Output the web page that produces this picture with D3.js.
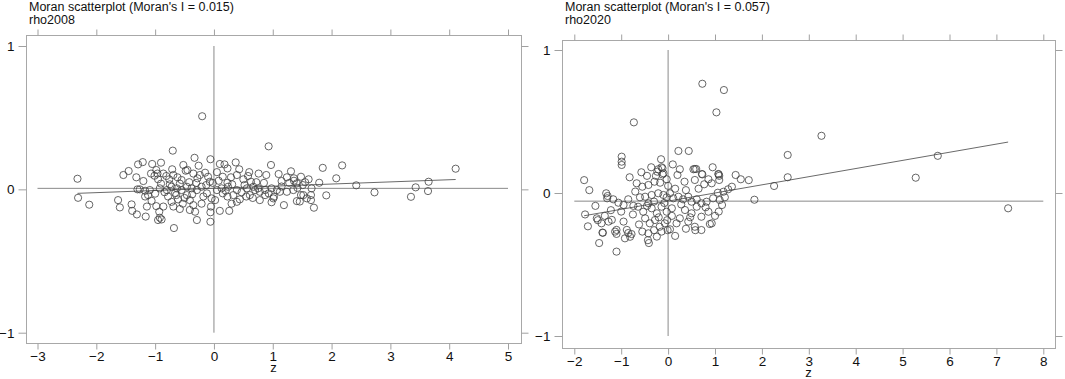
<!DOCTYPE html>
<html>
<head>
<meta charset="utf-8">
<script src="https://cdn.jsdelivr.net/npm/d3@7"></script>
<style>
body { margin: 0; background: #fff; }
svg { display: block; font-family: "Liberation Sans", Arial, sans-serif; }
</style>
</head>
<body>
<script>
// values: [z, spatial lag of z]
var rho2008 = [
  [-0.20,0.51],[-0.70,0.27],[0.93,0.30],[-2.32,0.074],[-2.31,-0.059],[-2.12,-0.107],[-1.63,-0.075],[-1.60,-0.126],
  [-1.54,0.10],[-1.45,0.128],[-1.32,0.084],[-1.29,0.174],[-1.21,0.19],[-1.40,-0.105],[-1.39,-0.15],[-1.31,-0.175],
  [-1.16,-0.19],[-0.95,-0.214],[-0.92,-0.198],[-0.89,-0.21],[-0.68,-0.27],[-0.06,-0.226],[-0.06,-0.16],[-0.29,-0.214],
  [0.26,-0.15],[-0.06,0.21],[-0.33,0.22],[-1.05,0.177],[-0.90,0.186],[-0.71,0.14],[-0.45,0.135],[-0.26,0.165],
  [0.18,0.174],[0.37,0.188],[0.43,0.14],[0.97,0.17],[1.10,0.107],[1.15,0.058],[1.19,-0.11],[0.98,-0.09],
  [0.78,-0.075],[-1.20,0.058],[-1.30,0.0],[-1.17,-0.05],
  [1.31,0.126],[1.36,0.077],[1.36,0.06],[1.48,0.088],[1.61,0.07],[1.51,0.03],[1.79,0.046],[1.85,0.15],
  [2.18,0.167],[2.08,0.077],[1.91,-0.042],[1.66,0.007],[1.65,-0.04],[1.65,-0.075],[1.70,-0.128],[1.48,-0.04],
  [1.41,-0.082],[1.46,-0.085],[1.02,-0.052],[1.12,-0.017],[2.42,0.028],[2.73,-0.021],[3.35,-0.052],[3.43,0.014],
  [3.64,-0.012],[3.65,0.053],[4.11,0.144],
  [-0.48,0.13],[-0.98,0.135],[-0.96,0.11],[-1.07,0.11],[-1.01,0.095],[-0.95,0.07],
  [-0.86,0.11],[-0.81,0.093],[-0.76,0.07],[-0.69,0.10],[-0.62,0.084],[-0.55,0.065],
  [-0.35,0.11],[-0.28,0.077],[-0.24,0.10],[-0.15,0.116],[-0.10,0.088],[-0.07,0.053],
  [0.10,0.177],[0.23,0.146],[0.39,0.10],[0.15,0.088],[0.29,0.084],[0.23,0.046],[0.50,0.07],[0.58,0.093],
  [0.63,0.053],[0.76,0.11],[0.89,0.10],[1.24,0.084],[1.41,0.042],
  [-1.12,-0.04],[-1.06,-0.08],[-1.14,-0.12],[-0.93,-0.156],[-0.98,-0.117],
  [-0.78,-0.05],[-0.72,-0.087],[-0.64,-0.04],[-0.61,-0.07],[-0.69,-0.12],[-0.58,-0.137],[-0.53,-0.10],
  [-0.46,-0.04],[-0.41,-0.075],[-0.35,-0.11],[-0.41,-0.144],[-0.32,-0.156],[-0.21,-0.10],
  [-0.12,-0.028],[-0.04,-0.063],[0.02,-0.075],[-0.05,-0.12],[0.10,-0.15],
  [0.15,-0.028],[0.23,-0.05],[0.33,-0.04],[0.39,-0.087],[0.44,-0.07],[0.55,-0.05],[0.61,-0.04],[0.70,-0.005],
  [0.78,-0.017],[0.87,-0.04],[0.93,-0.028],[1.01,-0.063],[1.52,-0.04],[1.58,-0.063],
  [-1.26,0.0],[-1.17,-0.01],[-1.09,-0.005],[-0.92,0.007],[-0.80,-0.005],[-0.72,0.018],[-0.63,0.007],[-0.55,-0.005],
  [-0.46,0.018],[-0.38,0.007],[-0.29,-0.005],[-0.21,0.018],[0.05,-0.005],[0.13,0.007],[0.24,0.018],[0.39,-0.005],
  [0.56,0.007],[0.67,0.018],[0.75,0.007],[0.87,-0.005],[0.98,0.007],[1.07,-0.005],[1.24,-0.017],[1.35,-0.005],
  [-0.90,0.04],[-0.84,-0.02],[-0.75,0.035],[-0.66,-0.025],[-0.58,0.04],[-0.50,-0.06],[-0.42,0.05],[-0.37,-0.035],
  [-0.30,0.045],[-0.18,-0.05],[-0.13,0.03],[-0.02,0.045],[0.08,0.06],[0.20,-0.01],[0.31,0.035],[0.47,-0.02],
  [0.52,0.03],[0.66,-0.06],[0.72,0.05],[0.85,0.045],[1.15,0.02],[1.28,0.045],[1.42,0.01],[1.55,0.05],
  [-1.00,-0.03],[-0.86,-0.12],[-0.52,0.17],[0.05,0.12],[0.30,-0.10],[0.60,0.12]
];

var rho2020 = [
  [3.27,0.40],[2.55,0.266],[2.55,0.11],[2.26,0.049],[5.28,0.107],[5.75,0.26],[7.25,-0.107],
  [0.73,0.764],[1.19,0.72],[1.03,0.564],[-0.73,0.494],[0.22,0.294],[0.44,0.294],[-0.99,0.254],[-0.99,0.219],
  [-0.99,0.196],[-0.15,0.236],[-1.79,0.09],[-1.68,0.02],[-0.57,0.145],[-0.36,0.18],[-0.23,0.149],[-0.26,0.12],
  [-0.12,0.173],[-0.12,0.13],[0.57,0.168],[0.60,0.168],[0.73,0.13],[1.08,0.13],[1.09,0.12],[1.44,0.126],
  [1.55,0.096],[1.72,0.09],[1.36,0.044],[1.84,-0.047],[-1.77,-0.15],[-1.71,-0.233],[-1.47,-0.35],[-1.39,-0.278],
  [-1.10,-0.41],[-1.13,-0.27],[-1.10,-0.286],[-0.85,-0.28],[-0.81,-0.306],[-0.92,-0.317],[-0.43,-0.33],[-0.41,-0.35],
  [-0.01,-0.26],[0.38,-0.25],[0.58,-0.26],[0.89,-0.217],[1.08,-0.13],[1.15,-0.084],[-1.32,-0.002],[-1.30,-0.037],
  [-1.52,-0.177],[-1.50,-0.19],[-1.27,-0.20],[-1.22,-0.12],
  [-0.21,0.166],[-0.10,0.138],[-0.14,0.18],
  [-0.67,0.068],[-0.55,0.044],[-0.42,0.056],[-0.29,0.079],[-0.17,0.072],[-0.03,0.096],
  [0.20,0.126],[0.25,0.166],[0.35,0.079],[0.54,0.166],[0.57,0.091],[0.72,0.133],[0.77,0.061],[0.86,0.096],
  [0.93,0.068],[1.07,0.133],[1.09,0.091],[1.06,0.002],[1.18,0.009],[1.28,0.026],
  [-1.29,-0.021],[-1.17,-0.044],[-1.06,-0.068],[-0.95,-0.084],[-0.85,-0.044],[-0.74,-0.09],
  [-1.42,-0.212],[-1.35,-0.16],[-1.20,-0.188],[-1.10,-0.258],[-1.40,-0.277],[-0.88,-0.258],[-0.78,-0.287],
  [-0.64,-0.096],[-0.53,-0.131],[-0.42,-0.072],[-0.35,-0.107],[-0.24,-0.142],[-0.14,-0.096],[-0.03,-0.131],[0.08,-0.107],
  [-0.49,-0.177],[-0.39,-0.212],[-0.28,-0.189],[-0.18,-0.236],[-0.07,-0.212],[0.04,-0.254],[-0.42,-0.282],
  [-0.14,-0.27],[-0.24,-0.305],
  [-0.49,-0.026],[-0.35,-0.014],[-0.21,-0.002],[-0.10,-0.014],[-0.03,-0.03],[0.04,-0.002],[0.11,-0.037],[0.22,-0.026],
  [0.32,-0.044],[0.43,-0.026],[0.50,-0.061],[0.61,-0.044],[0.71,-0.072],[0.82,-0.061],[0.96,-0.037],[1.10,-0.049],
  [1.21,-0.03],
  [0.36,-0.119],[0.50,-0.142],[0.61,-0.096],[0.71,-0.166],[0.86,-0.131],[0.93,-0.212],[0.57,-0.236],[0.18,-0.212],
  [0.25,-0.177],[0.71,-0.259],[0.43,-0.2],
  [-0.60,-0.03],[-0.70,0.01],[-0.45,-0.09],[-0.30,-0.06],[-0.20,-0.17],[-0.08,-0.07],[0.00,0.05],[0.08,-0.16],
  [0.15,0.03],[0.28,-0.08],[0.38,0.02],[0.47,-0.17],[0.65,0.03],[0.80,-0.10],[1.00,-0.16],[-0.95,-0.20],
  [-0.62,-0.22],[-0.55,-0.27],[-0.30,-0.26],[-0.02,-0.19],[0.15,-0.30],[-0.82,0.11],[-0.45,0.12],[0.10,0.20],
  [0.95,0.18],[-1.55,-0.09],[-1.00,-0.13],[-0.75,-0.15]
];

var varNames = ["rho2008", "rho2020"];
var moranI = [0.015, 0.057];
var lagMean = [0.007, -0.057];      // mean of the spatial lag (horizontal reference line)
var xTicks2008 = [-3, -2, -1, 0, 1, 2, 3, 4, 5];
var xTicks2020 = [-2, -1, 0, 1, 2, 3, 4, 5, 6, 7, 8];
var yTicks = [-1, 0, 1];

var svg = d3.select("body").append("svg")
    .attr("width", 1065)
    .attr("height", 379);

function panel(data, name, I, mean, xTicks, box) {
    var x = d3.scaleLinear()
        .domain([xTicks[0], xTicks[xTicks.length - 1]])
        .range(box.xr);
    var y = d3.scaleLinear()
        .domain([-1, 1])
        .range(box.yr);

    var g = svg.append("g");

    // titles
    g.append("text")
        .attr("x", box.x0 + 3)
        .attr("y", 11)
        .style("font-size", "12.5px")
        .attr("fill", "#111")
        .text("Moran scatterplot (Moran's I = " + d3.format(".3f")(I) + ")");
    g.append("text")
        .attr("x", box.x0 + 3)
        .attr("y", 23.5)
        .style("font-size", "12.5px")
        .attr("fill", "#111")
        .text(name);

    // frame
    g.append("rect")
        .attr("x", box.x0 + 0.5)
        .attr("y", box.y0 + 0.5)
        .attr("width", box.x1 - box.x0)
        .attr("height", box.y1 - box.y0)
        .attr("fill", "none")
        .attr("stroke", "#a8a8a8");

    // axes
    var bottom = g.append("g")
        .attr("transform", "translate(0," + (box.y1 + 0.5) + ")")
        .call(d3.axisBottom(x).tickValues(xTicks).tickSize(6).tickPadding(2).tickFormat(d3.format("d")));
    var top = g.append("g")
        .attr("transform", "translate(0," + (box.y0 + 0.5) + ")")
        .call(d3.axisTop(x).tickValues(xTicks).tickSize(6).tickFormat(""));
    var left = g.append("g")
        .attr("transform", "translate(" + (box.x0 + 0.5) + ",0)")
        .call(d3.axisLeft(y).tickValues(yTicks).tickSize(8).tickPadding(4).tickFormat(d3.format("d")));
    var right = g.append("g")
        .attr("transform", "translate(" + (box.x1 + 0.5) + ",0)")
        .call(d3.axisRight(y).tickValues(yTicks).tickSize(7).tickFormat(""));

    [bottom, top, left, right].forEach(function(a) {
        a.select(".domain").remove();
        a.selectAll(".tick line").attr("stroke", "#a0a0a0");
        a.selectAll(".tick text")
            .attr("fill", "#111")
            .style("font-size", "13.5px")
            .style("font-family", "\"Liberation Sans\", Arial, sans-serif");
    });

    g.append("text")
        .attr("x", (box.x0 + box.x1) / 2)
        .attr("y", box.y1 + 29)
        .attr("text-anchor", "middle")
        .style("font-size", "13px")
        .attr("fill", "#111")
        .text("z");

    // reference lines
    g.append("line")
        .attr("x1", x(xTicks[0])).attr("x2", x(xTicks[xTicks.length - 1]))
        .attr("y1", y(mean)).attr("y2", y(mean))
        .attr("stroke", "#8a8a8a").attr("stroke-width", 1);
    g.append("line")
        .attr("x1", x(0)).attr("x2", x(0))
        .attr("y1", y(1)).attr("y2", y(-1))
        .attr("stroke", "#8a8a8a").attr("stroke-width", 1);

    // fitted line through (0, mean) with slope = Moran's I
    var ext = d3.extent(data, function(d) { return d[0]; });
    g.append("line")
        .attr("x1", x(ext[0])).attr("x2", x(ext[1]))
        .attr("y1", y(mean + I * ext[0])).attr("y2", y(mean + I * ext[1]))
        .attr("stroke", "#6a6a6a").attr("stroke-width", 1);

    g.append("g")
        .selectAll("circle")
        .data(data)
        .enter().append("circle")
        .attr("cx", function(d) { return x(d[0]); })
        .attr("cy", function(d) { return y(d[1]); })
        .attr("r", 3.6)
        .attr("fill", "none")
        .attr("stroke", "#404040")
        .attr("stroke-width", 0.8);
}

panel(rho2008, varNames[0], moranI[0], lagMean[0], xTicks2008,
    {x0: 26, x1: 521, y0: 35, y1: 343, xr: [37.5, 508], yr: [332.7, 46]});
panel(rho2020, varNames[1], moranI[1], lagMean[1], xTicks2020,
    {x0: 562, x1: 1055, y0: 40, y1: 348, xr: [574.3, 1043.3], yr: [336, 50]});
</script>
</body>
</html>
